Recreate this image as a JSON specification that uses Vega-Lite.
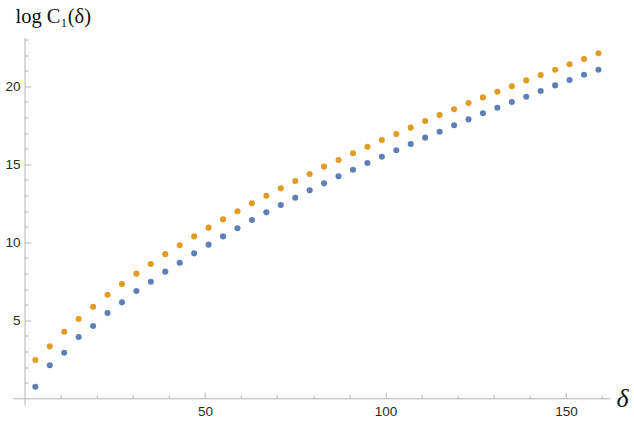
{
  "$schema": "https://vega.github.io/schema/vega-lite/v6.json",
  "width": 597.3,
  "height": 367.5,
  "autosize": "none",
  "padding": {"left": 12.7, "top": 37.5, "right": 24, "bottom": 16},
  "config": {"view": {"stroke": null}, "axis": {"grid": false}},
  "data": {"values": [
    {"d": 3, "lower": 0.74, "upper": 2.46},
    {"d": 7, "lower": 2.12, "upper": 3.33},
    {"d": 11, "lower": 2.92, "upper": 4.27},
    {"d": 15, "lower": 3.93, "upper": 5.08},
    {"d": 19, "lower": 4.63, "upper": 5.87},
    {"d": 23, "lower": 5.47, "upper": 6.64},
    {"d": 27, "lower": 6.15, "upper": 7.33},
    {"d": 31, "lower": 6.88, "upper": 7.99},
    {"d": 35, "lower": 7.47, "upper": 8.61},
    {"d": 39, "lower": 8.12, "upper": 9.24},
    {"d": 43, "lower": 8.69, "upper": 9.81},
    {"d": 47, "lower": 9.29, "upper": 10.38},
    {"d": 51, "lower": 9.85, "upper": 10.94},
    {"d": 55, "lower": 10.38, "upper": 11.47},
    {"d": 59, "lower": 10.90, "upper": 11.99},
    {"d": 63, "lower": 11.43, "upper": 12.5},
    {"d": 67, "lower": 11.92, "upper": 12.99},
    {"d": 71, "lower": 12.39, "upper": 13.46},
    {"d": 75, "lower": 12.86, "upper": 13.93},
    {"d": 79, "lower": 13.33, "upper": 14.38},
    {"d": 83, "lower": 13.78, "upper": 14.85},
    {"d": 87, "lower": 14.23, "upper": 15.28},
    {"d": 91, "lower": 14.65, "upper": 15.71},
    {"d": 95, "lower": 15.08, "upper": 16.13},
    {"d": 99, "lower": 15.49, "upper": 16.56},
    {"d": 103, "lower": 15.90, "upper": 16.94},
    {"d": 107, "lower": 16.30, "upper": 17.35},
    {"d": 111, "lower": 16.71, "upper": 17.78},
    {"d": 115, "lower": 17.09, "upper": 18.16},
    {"d": 119, "lower": 17.5, "upper": 18.53},
    {"d": 123, "lower": 17.88, "upper": 18.93},
    {"d": 127, "lower": 18.27, "upper": 19.29},
    {"d": 131, "lower": 18.63, "upper": 19.65},
    {"d": 135, "lower": 18.99, "upper": 20.0},
    {"d": 139, "lower": 19.33, "upper": 20.38},
    {"d": 143, "lower": 19.70, "upper": 20.72},
    {"d": 147, "lower": 20.06, "upper": 21.06},
    {"d": 151, "lower": 20.40, "upper": 21.41},
    {"d": 155, "lower": 20.74, "upper": 21.75},
    {"d": 159, "lower": 21.06, "upper": 22.12}
  ]},
  "transform": [{"fold": ["lower", "upper"], "as": ["series", "v"]}],
  "mark": {"type": "circle", "size": 37, "opacity": 1},
  "encoding": {
    "x": {
      "field": "d", "type": "quantitative",
      "scale": {"domain": [-3.27, 162.2], "nice": false, "zero": false},
      "axis": {
        "values": [10, 20, 30, 40, 50, 60, 70, 80, 90, 100, 110, 120, 130, 140, 150, 160],
        "labelExpr": "datum.value % 50 === 0 ? datum.label : ''",
        "offset": -6.7,
        "domainColor": "#b4b4b4",
        "tickColor": "#b4b4b4",
        "tickSize": {"condition": {"test": "datum.value % 50 === 0", "value": -6}, "value": -3.5},
        "labelPadding": 12,
        "labelFont": "Liberation Sans",
        "labelFontSize": 13.5,
        "labelColor": "#2a2a2a",
        "labelBaseline": "top",
        "title": "δ",
        "titleFont": "Liberation Serif",
        "titleFontStyle": "italic",
        "titleFontWeight": "normal",
        "titleFontSize": 26,
        "titleColor": "#111111",
        "titleAlign": "left",
        "titleBaseline": "alphabetic",
        "titleAngle": 0,
        "titleX": 603.3,
        "titleY": 7.7
      }
    },
    "y": {
      "field": "v", "type": "quantitative",
      "scale": {"domain": [-0.43, 23.13], "nice": false, "zero": false},
      "axis": {
        "values": [1, 2, 3, 4, 5, 6, 7, 8, 9, 10, 11, 12, 13, 14, 15, 16, 17, 18, 19, 20, 21, 22, 23],
        "labelExpr": "datum.value % 5 === 0 ? datum.label : ''",
        "offset": -11.8,
        "domainColor": "#b4b4b4",
        "tickColor": "#b4b4b4",
        "tickSize": {"condition": {"test": "datum.value % 5 === 0", "value": -6}, "value": -3.5},
        "labelPadding": 10.5,
        "labelFont": "Liberation Sans",
        "labelFontSize": 13.5,
        "labelColor": "#2a2a2a",
        "title": "log C₁(δ)",
        "titleFont": "Liberation Serif",
        "titleFontWeight": "normal",
        "titleFontSize": 20.5,
        "titleColor": "#111111",
        "titleAlign": "left",
        "titleBaseline": "alphabetic",
        "titleAngle": 0,
        "titleX": -9.5,
        "titleY": -14.8
      }
    },
    "color": {
      "field": "series", "type": "nominal",
      "scale": {"domain": ["lower", "upper"], "range": ["#5E81B5", "#E19C24"]},
      "legend": null
    }
  }
}
